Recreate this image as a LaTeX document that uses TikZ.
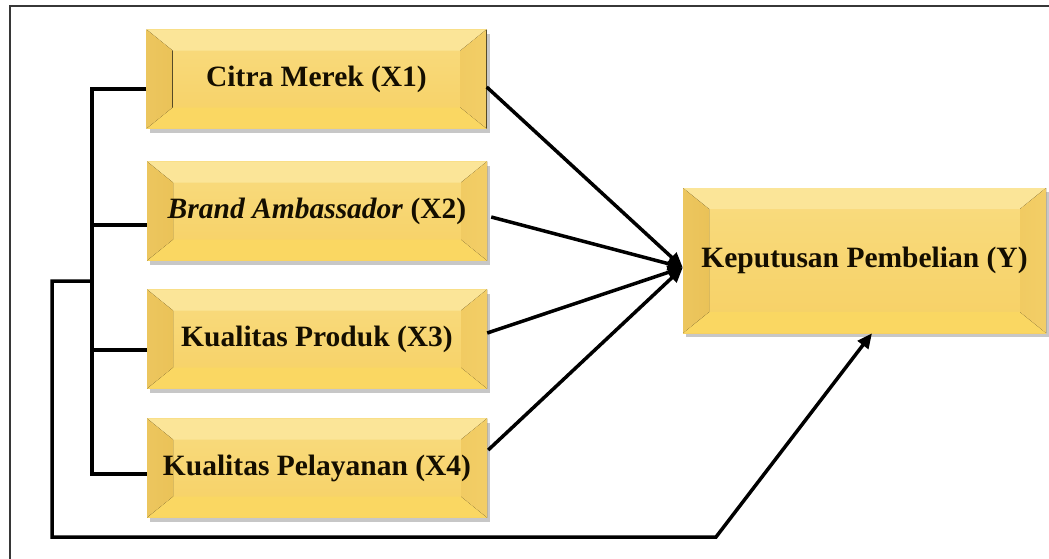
\documentclass[tikz,border=0pt]{standalone}
\usepackage{fontspec}
\setmainfont{Liberation Serif}
\usetikzlibrary{arrows.meta,calc,shadows}
\definecolor{goldtop}{RGB}{249,220,128}
\definecolor{goldbot}{RGB}{246,208,100}
\definecolor{bevtop}{RGB}{251,229,152}
\definecolor{bevleft}{RGB}{234,194,88}
\definecolor{bevright}{RGB}{241,203,98}
\definecolor{bevbot}{RGB}{250,215,98}
\definecolor{framegray}{RGB}{55,55,55}
\definecolor{textdark}{RGB}{20,14,0}
\tikzset{
  bevelbox/.style={
    rectangle, inner sep=0pt, align=center, text=textdark,
    font=\fontsize{29.5}{34}\selectfont\bfseries,
    top color=goldtop, bottom color=goldbot,
    drop shadow={shadow xshift=3pt,shadow yshift=-4pt,opacity=0.22,fill=black},
    path picture={
      \path (path picture bounding box.south west) coordinate (ppsw)
            (path picture bounding box.north east) coordinate (ppne)
            (path picture bounding box.north west) coordinate (ppnw)
            (path picture bounding box.south east) coordinate (ppse);
      \fill[bevtop] (ppnw) -- (ppne) -- ($(ppne)+(-26pt,-21pt)$) -- ($(ppnw)+(26pt,-21pt)$) -- cycle;
      \fill[bevbot] (ppsw) -- (ppse) -- ($(ppse)+(-26pt,21pt)$) -- ($(ppsw)+(26pt,21pt)$) -- cycle;
      \fill[left color=bevleft!85!goldtop, right color=bevleft] (ppnw) -- (ppsw) -- ($(ppsw)+(26pt,21pt)$) -- ($(ppnw)+(26pt,-21pt)$) -- cycle;
      \fill[left color=bevright, right color=bevright!85!goldtop] (ppne) -- (ppse) -- ($(ppse)+(-26pt,21pt)$) -- ($(ppne)+(-26pt,-21pt)$) -- cycle;
    }
  },
  xbox/.style={bevelbox, minimum width=340pt, minimum height=99pt},
  ybox/.style={bevelbox, minimum width=363pt, minimum height=145pt},
  conn/.style={line width=3.5pt, black, line join=miter},
  arr/.style={conn, -{Triangle[length=15pt,width=13pt]}},
  frame/.style={line width=2pt, framegray}
}
\begin{document}
\begin{tikzpicture}[x=1pt,y=-1pt]
\useasboundingbox (0,0) rectangle (1049,558);
\clip (0,0) rectangle (1049,558);
\fill[white] (0,0) rectangle (1049,558);
\draw[frame] (10,6) rectangle (1100,600);

\node[xbox] (x1) at (316.5,79) {Citra Merek (X1)};
\node[xbox] (x2) at (317,211) {\textit{Brand Ambassador} (X2)};
\node[xbox] (x3) at (317,339) {Kualitas Produk (X3)};
\node[xbox] (x4) at (317,468) {Kualitas Pelayanan (X4)};
\node[ybox] (y) at (864.5,260.5) {Keputusan Pembelian (Y)};

% bracket on the left
\coordinate (b1) at (92,89);
\coordinate (b2) at (92,225);
\coordinate (b3) at (92,350);
\coordinate (b4) at (92,474);
\coordinate (j) at (92,281);
\coordinate (o1) at (52,281);
\coordinate (o2) at (52,537);
\coordinate (o3) at (716,537);

\draw[conn] (x1.west |- b1) -- (b1) -- (b4) -- (x4.west |- b4);
\draw[conn] (b2) -- (x2.west |- b2);
\draw[conn] (b3) -- (x3.west |- b3);

% outer path to Y
\draw[arr] (j) -- (o1) -- (o2) -- (o3) -- ([xshift=7.5pt]y.south);

% arrows from X boxes to Y
\draw[arr] ([yshift=-8pt]x1.east) -- ([yshift=-7pt]y.west);
\draw[arr] ([xshift=4pt,yshift=-6pt]x2.east) -- ([yshift=-7pt]y.west);
\draw[arr] ([yshift=6pt]x3.east) -- ([yshift=-7pt]y.west);
\draw[arr] ([xshift=1pt,yshift=18pt]x4.east) -- ([yshift=-7pt]y.west);
\end{tikzpicture}
\end{document}
